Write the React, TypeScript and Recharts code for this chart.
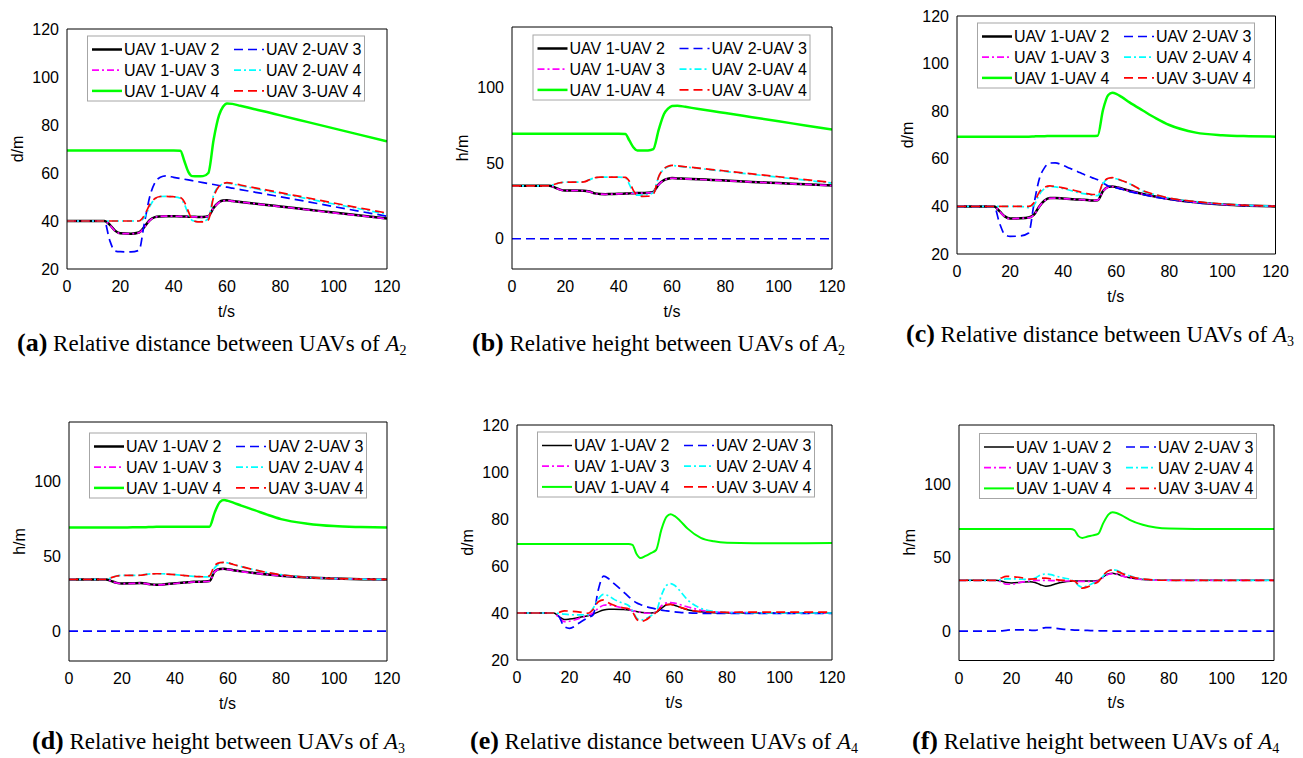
import React from "react";
import { LineChart, Line, XAxis, YAxis } from "recharts";

// ─── shared time base (s) ───────────────────────────────────────────────────
const TIME = [0, 10, 14, 16, 18, 20, 24, 27, 29, 31, 33, 35, 37, 40, 42.5, 44, 45.5, 47, 49, 51, 53, 55, 57, 58.5, 60, 62, 65, 70, 75, 80, 90, 100, 110, 120];

const X_TICKS = [0, 20, 40, 60, 80, 100, 120];
const D_TICKS = [20, 40, 60, 80, 100, 120];
const H_TICKS = [0, 50, 100];

// ─── (a) relative distance, A2 ──────────────────────────────────────────────
const a12 = [40, 40, 40, 38.5, 36, 34.9, 34.7, 35.2, 37.5, 40.3, 41.6, 41.9, 42, 42, 41.9, 41.9, 41.8, 41.8, 41.7, 41.7, 42, 45.5, 47.8, 48.5, 48.6, 48.35, 47.95, 47.3, 46.7, 46.05, 44.8, 43.5, 42.3, 41];
const a13 = [40, 40, 40, 38.4, 35.9, 34.8, 34.7, 35.1, 37.4, 40.2, 41.6, 41.9, 42, 42, 41.9, 41.8, 41.8, 41.7, 41.7, 41.6, 42, 45.4, 47.7, 48.4, 48.5, 48.3, 47.9, 47.3, 46.6, 46, 44.7, 43.4, 42.2, 40.9];
const a14 = [69.4, 69.4, 69.4, 69.4, 69.4, 69.4, 69.4, 69.4, 69.4, 69.4, 69.4, 69.4, 69.4, 69.4, 69.3, 65, 60.5, 58.7, 58.6, 58.7, 60, 74, 84, 87.6, 89, 88.8, 88, 86.7, 85.4, 84, 81.3, 78.6, 75.9, 73.2];
const a23 = [40, 40, 40, 32, 27.5, 27.2, 27.1, 27.8, 39, 50, 56, 58.2, 58.8, 58.2, 57.7, 57.4, 57.1, 56.8, 56.4, 56, 55.6, 55.2, 54.8, 54.5, 54.1, 53.7, 53.1, 52.1, 51.1, 50.1, 48.1, 46, 44, 42];
const a24 = [40, 40, 40, 40, 40, 40, 40, 40, 41.5, 46, 49.3, 50.2, 50.3, 50.1, 49.5, 47, 43, 40.2, 39.8, 39.9, 41, 51, 54.5, 55.5, 55.8, 55.4, 54.7, 53.6, 52.5, 51.5, 49.3, 47.1, 45, 42.8];
const a34 = [40, 40, 40, 40, 40, 40, 40, 40, 42.3, 46.8, 49.4, 50.2, 50.3, 50.1, 49.8, 48, 44, 40.5, 39.6, 39.6, 40.5, 50, 54.5, 55.6, 56, 55.7, 55, 53.9, 52.9, 51.8, 49.7, 47.5, 45.4, 43.3];

// ─── (b) relative height, A2 ────────────────────────────────────────────────
const b12 = [35, 35, 35, 34, 32.5, 31.9, 31.9, 31.8, 31.2, 30, 29.6, 29.5, 29.6, 29.7, 29.9, 30, 30.1, 30.2, 30.3, 30.4, 31, 36, 38.8, 39.7, 40.1, 39.9, 39.7, 39.3, 38.9, 38.5, 37.6, 36.8, 36, 35.2];
const b13 = [35, 35, 35, 33.9, 32.4, 31.8, 31.9, 31.7, 31.1, 29.9, 29.5, 29.4, 29.5, 29.7, 29.8, 29.9, 30, 30.1, 30.2, 30.3, 30.9, 35.8, 38.7, 39.6, 40, 39.8, 39.6, 39.2, 38.8, 38.4, 37.5, 36.7, 35.9, 35.1];
const b14 = [69.4, 69.4, 69.4, 69.4, 69.4, 69.4, 69.4, 69.4, 69.4, 69.4, 69.4, 69.4, 69.4, 69.4, 69.3, 65, 60.5, 58.4, 58.3, 58.4, 59.3, 72, 82.5, 86, 87.8, 88, 87.2, 85.8, 84.5, 83.1, 80.4, 77.7, 74.9, 72.2];
const b23 = [0, 0, 0, 0, 0, 0, 0, 0, 0, 0, 0, 0, 0, 0, 0, 0, 0, 0, 0, 0, 0, 0, 0, 0, 0, 0, 0, 0, 0, 0, 0, 0, 0, 0];
const b24 = [35, 35, 35, 36, 37, 37.4, 37.4, 37.6, 39, 40.3, 40.7, 40.8, 40.8, 40.7, 40.3, 36, 30.5, 28.8, 28.9, 29.3, 30.5, 41, 46, 47.6, 48.4, 48, 47.4, 46.5, 45.5, 44.5, 42.6, 40.7, 38.7, 36.8];
const b34 = [35, 35, 35, 36, 37, 37.4, 37.4, 37.6, 39, 40.3, 40.7, 40.8, 40.8, 40.7, 40.6, 38, 32, 28.8, 28, 28.1, 29.5, 41, 46.3, 47.9, 48.5, 48.2, 47.6, 46.7, 45.7, 44.8, 42.9, 41, 39.1, 37.2];

// ─── (c) relative distance, A3 ──────────────────────────────────────────────
const c12 = [40, 40, 40, 38, 35.8, 34.9, 35, 35.3, 36.5, 40, 42.5, 43.5, 43.5, 43.3, 43.1, 43, 42.9, 42.8, 42.7, 42.5, 42.6, 46.5, 48.2, 48.4, 48.1, 47.5, 46.6, 45.2, 44.1, 43.1, 41.7, 40.8, 40.3, 40];
const c13 = [40, 40, 40, 37.9, 35.7, 34.8, 35, 35.2, 36.4, 39.9, 42.4, 43.4, 43.5, 43.3, 43.1, 43, 42.9, 42.8, 42.6, 42.5, 42.6, 46.4, 48.1, 48.3, 48, 47.4, 46.5, 45.1, 44, 43, 41.7, 40.8, 40.3, 40];
const c14 = [69.3, 69.3, 69.3, 69.3, 69.3, 69.3, 69.3, 69.3, 69.4, 69.5, 69.5, 69.6, 69.6, 69.6, 69.6, 69.6, 69.6, 69.6, 69.6, 69.6, 69.7, 80.5, 86.8, 87.7, 87.3, 86, 83.7, 80.3, 77, 74.2, 71, 69.9, 69.5, 69.3];
const c23 = [40, 40, 40, 33, 28.2, 27.4, 27.6, 28.8, 41, 51.5, 56.3, 58.2, 58.3, 57.2, 56, 55.3, 54.6, 53.8, 52.9, 52, 51.2, 49.8, 48.6, 48.3, 47.8, 47.2, 46.2, 45, 43.8, 43, 41.6, 40.8, 40.3, 40.1];
const c24 = [40, 40, 40, 40, 40, 40, 40, 39.5, 40.5, 45, 47.5, 48.3, 48.2, 47.5, 46.8, 46.3, 45.9, 45.5, 45.1, 44.7, 44.5, 49.5, 51.7, 52, 51.6, 50.8, 49.5, 46.5, 44.8, 43.5, 42, 41, 40.4, 40.1];
const c34 = [40, 40, 40, 40, 40, 40, 40, 40, 41.5, 46, 48, 48.6, 48.4, 47.8, 47.2, 46.8, 46.3, 45.9, 45.4, 45, 45, 50, 51.8, 52.1, 51.7, 50.9, 49.6, 46.6, 44.9, 43.5, 42, 41, 40.4, 40.1];

// ─── (d) relative height, A3 ────────────────────────────────────────────────
const d12 = [34.6, 34.6, 34.6, 33.5, 32.3, 31.9, 32, 32.2, 31.9, 31.3, 31, 31.1, 31.5, 32, 32.4, 32.6, 32.8, 33, 33.1, 33.2, 33.5, 40, 41.6, 41.7, 41.4, 40.8, 40, 38.9, 37.9, 37.1, 35.9, 35.2, 34.8, 34.6];
const d13 = [34.6, 34.6, 34.6, 33.4, 32.2, 31.8, 31.9, 32.1, 31.8, 31.2, 30.9, 31, 31.4, 31.9, 32.3, 32.5, 32.7, 32.9, 33, 33.1, 33.4, 39.8, 41.5, 41.6, 41.3, 40.7, 39.9, 38.8, 37.8, 37, 35.9, 35.2, 34.8, 34.6];
const d14 = [69.4, 69.4, 69.4, 69.4, 69.4, 69.4, 69.5, 69.5, 69.6, 69.7, 69.8, 69.8, 69.8, 69.8, 69.8, 69.8, 69.8, 69.8, 69.8, 69.8, 69.9, 79.5, 86.5, 87.7, 87.2, 86, 84, 81, 77.8, 75, 71.9, 70.3, 69.7, 69.4];
const d23 = [0, 0, 0, 0, 0, 0, 0, 0, 0, 0, 0, 0, 0, 0, 0, 0, 0, 0, 0, 0, 0, 0, 0, 0, 0, 0, 0, 0, 0, 0, 0, 0, 0, 0];
const d24 = [34.6, 34.6, 34.6, 35.8, 36.9, 37.3, 37.3, 37.5, 38, 38.3, 38.4, 38.4, 38.2, 37.8, 37.4, 37.1, 36.9, 36.7, 36.5, 36.3, 36.5, 42.5, 45.3, 46, 45.6, 44.6, 43.2, 41, 39.2, 37.8, 36, 35.2, 34.8, 34.6];
const d34 = [34.6, 34.6, 34.6, 35.8, 36.9, 37.3, 37.3, 37.4, 37.9, 38.3, 38.4, 38.4, 38.2, 37.8, 37.4, 37.1, 36.9, 36.7, 36.5, 36.4, 37, 44, 45.8, 46, 45.6, 44.6, 43.2, 41, 39.2, 37.8, 36, 35.2, 34.8, 34.6];

// ─── (e) relative distance, A4 ──────────────────────────────────────────────
const e12 = [40, 40, 40, 38.5, 37.2, 37.4, 38.2, 38.8, 39.5, 40.5, 41.3, 41.6, 41.6, 41.5, 41.3, 41, 40.6, 40.3, 40.1, 40, 40.3, 42, 43.5, 43.7, 43.3, 42.5, 41.4, 40.5, 40.1, 40, 40, 40, 40, 40];
const e13 = [40, 40, 40, 38, 36.3, 36.5, 37.8, 39, 40, 42, 43.3, 43.5, 43, 42.2, 41.5, 41, 40.6, 40.3, 40, 39.9, 40.5, 43, 44.3, 44.4, 44.2, 43.6, 42.6, 41.2, 40.5, 40.2, 40.1, 40, 40, 40];
const e14 = [69.4, 69.4, 69.4, 69.4, 69.4, 69.4, 69.4, 69.4, 69.4, 69.4, 69.4, 69.4, 69.4, 69.4, 69.4, 69, 65.2, 63.4, 64.3, 65.5, 66.8, 75.5, 81, 82, 81.3, 79.4, 75.9, 72, 70.5, 69.9, 69.7, 69.7, 69.7, 69.8];
const e23 = [40, 40, 40, 38.5, 34.2, 33.5, 36, 38, 39.2, 50, 55.7, 54.5, 52.5, 49.6, 47, 45.5, 44.4, 43.6, 42.8, 42.2, 41.7, 41.2, 40.9, 40.7, 40.5, 40.3, 40.1, 39.9, 39.8, 39.8, 39.8, 39.8, 39.8, 39.8];
const e24 = [40, 40, 40, 39.8, 39.5, 39.3, 39.2, 39.3, 42, 46, 47.9, 47.2, 45.8, 44.3, 43.2, 41, 38, 37, 37.5, 38.8, 40.5, 47.5, 51.8, 52.5, 51.8, 49.5, 45.6, 42, 40.7, 40.2, 40.1, 40, 40, 40];
const e34 = [40, 40, 40, 40.3, 40.9, 40.8, 40.4, 39.9, 41.5, 44.8, 45.6, 44.3, 43.3, 42.3, 41.8, 40.5, 37.5, 36.3, 37, 38.6, 40.3, 42.5, 43.6, 43.7, 43.3, 42.5, 41.5, 40.6, 40.4, 40.3, 40.4, 40.4, 40.4, 40.4];

// ─── (f) relative height, A4 ────────────────────────────────────────────────
const f12 = [34.5, 34.5, 34.5, 34, 33, 32.7, 33.2, 33.5, 33, 31.5, 30.5, 31, 32.2, 33.3, 33.8, 34, 34, 34, 34, 34, 34.3, 37, 39, 39.2, 38.7, 37.6, 36.2, 35, 34.7, 34.5, 34.5, 34.5, 34.5, 34.5];
const f13 = [34.5, 34.5, 34.5, 33.5, 31.8, 31.8, 33.3, 34, 34.3, 34.5, 34.5, 34.3, 34.2, 34, 34, 33.9, 33.8, 33.7, 33.7, 33.7, 34, 36.5, 38.6, 39, 38.6, 37.5, 36.2, 35, 34.6, 34.5, 34.5, 34.5, 34.5, 34.5];
const f14 = [69.4, 69.4, 69.4, 69.4, 69.4, 69.4, 69.4, 69.4, 69.4, 69.4, 69.4, 69.4, 69.4, 69.4, 69.4, 68.5, 64.5, 63.3, 64.2, 65, 66, 73.5, 79.3, 80.7, 80.2, 78.6, 75.6, 72.2, 70.4, 69.7, 69.4, 69.4, 69.4, 69.4];
const f23 = [0, 0, 0, 0.1, 0.5, 0.8, 0.8, 0.6, 0.4, 1.5, 2.4, 2.4, 1.8, 1.2, 0.9, 0.7, 0.6, 0.5, 0.4, 0.3, 0.2, 0.1, 0.1, 0, 0, 0, 0, 0, 0, 0, 0, 0, 0, 0];
const f24 = [34.5, 34.5, 34.5, 35, 35.5, 35.5, 35.2, 35, 36, 38, 38.8, 38.3, 37.3, 36, 35, 33.5, 31, 29.8, 30.8, 32.5, 33.8, 37.5, 40.8, 41.7, 41.3, 39.8, 37.5, 35.3, 34.7, 34.5, 34.5, 34.5, 34.5, 34.5];
const f34 = [34.5, 34.5, 34.5, 36, 37.2, 37, 36.2, 35.3, 35.4, 36, 36, 35.5, 35, 34.5, 34.3, 33.8, 31.5, 29.2, 30, 31.8, 33.5, 38, 41, 41.5, 40.8, 39.2, 37.2, 35.3, 34.7, 34.5, 34.5, 34.5, 34.5, 34.5];

const SANS = "'Liberation Sans', Arial, Helvetica, sans-serif";
const SERIF = "'Liberation Serif', 'Times New Roman', serif";

interface SeriesStyle {
  key: string;
  name: string;
  color: string;
  dash?: string;
}

// plot order = MATLAB order (legend is filled column-wise)
const SERIES: SeriesStyle[] = [
  { key: "s12", name: "UAV 1-UAV 2", color: "#000000" },
  { key: "s13", name: "UAV 1-UAV 3", color: "#ff00ff", dash: "7 3 2 3" },
  { key: "s14", name: "UAV 1-UAV 4", color: "#00ff00" },
  { key: "s23", name: "UAV 2-UAV 3", color: "#0000ff", dash: "9 5" },
  { key: "s24", name: "UAV 2-UAV 4", color: "#00ffff", dash: "7 3 2 3" },
  { key: "s34", name: "UAV 3-UAV 4", color: "#ff0000", dash: "9 5" },
];

interface PanelCfg {
  tag: string;
  title: string;
  sub: string;
  yLabel: string;
  yDomain: [number, number];
  yTicks: number[];
  l: number; t: number; w: number; h: number;   // plot box on the page
  legTop: number;                                // legend offset from plot top
  thick: number; green: number;                  // widths for black / green
  capX: number; capY: number;                    // caption start + baseline
  series: number[][];
}

const PANELS: PanelCfg[] = [
  { tag: "(a)", title: "Relative distance between UAVs of ", sub: "2", yLabel: "d/m", yDomain: [20, 120], yTicks: D_TICKS,
    l: 66.5, t: 29, w: 320, h: 240, legTop: 7, thick: 2.5, green: 2.5, capX: 17, capY: 351, series: [a12, a13, a14, a23, a24, a34] },
  { tag: "(b)", title: "Relative height between UAVs of ", sub: "2", yLabel: "h/m", yDomain: [-20, 140], yTicks: H_TICKS,
    l: 512, t: 27, w: 320, h: 242, legTop: 8, thick: 2.5, green: 2.5, capX: 472, capY: 351, series: [b12, b13, b14, b23, b24, b34] },
  { tag: "(c)", title: "Relative distance between UAVs of ", sub: "3", yLabel: "d/m", yDomain: [20, 120], yTicks: D_TICKS,
    l: 956.5, t: 16, w: 318.5, h: 238, legTop: 7, thick: 2.5, green: 2.5, capX: 906, capY: 342, series: [c12, c13, c14, c23, c24, c34] },
  { tag: "(d)", title: "Relative height between UAVs of ", sub: "3", yLabel: "h/m", yDomain: [-20, 140], yTicks: H_TICKS,
    l: 68.5, t: 422, w: 318, h: 239, legTop: 11, thick: 2.5, green: 2.5, capX: 32, capY: 749, series: [d12, d13, d14, d23, d24, d34] },
  { tag: "(e)", title: "Relative distance between UAVs of ", sub: "4", yLabel: "d/m", yDomain: [20, 120], yTicks: D_TICKS,
    l: 516.5, t: 425, w: 315, h: 235, legTop: 7, thick: 1.5, green: 2, capX: 470, capY: 749, series: [e12, e13, e14, e23, e24, e34] },
  { tag: "(f)", title: "Relative height between UAVs of ", sub: "4", yLabel: "h/m", yDomain: [-20, 140], yTicks: H_TICKS,
    l: 958.5, t: 424.5, w: 315, h: 235.5, legTop: 9, thick: 1.5, green: 2, capX: 912, capY: 749, series: [f12, f13, f14, f23, f24, f34] },
];

function widthFor(p: PanelCfg, key: string) {
  if (key === "s12") return p.thick;
  if (key === "s14") return p.green;
  return 1.7;
}

const Y_AXIS_W = 60;
const X_AXIS_H = 50;
const RIGHT_PAD = 26;

function Panel({ p }: { p: PanelCfg }) {
  const rows = TIME.map((t, i) => {
    const row: Record<string, number> = { t };
    SERIES.forEach((s, k) => { row[s.key] = p.series[k][i]; });
    return row;
  });
  const tickStyle = { fill: "#000", fontSize: 16, fontFamily: SANS };
  const line = { stroke: "#000", strokeWidth: 1 };

  return (
    <div style={{ position: "absolute", left: p.l - Y_AXIS_W, top: p.t - 10 }}>
      <LineChart width={p.w + Y_AXIS_W + RIGHT_PAD} height={p.h + 10 + X_AXIS_H} data={rows}
        margin={{ top: 10, right: RIGHT_PAD, left: 0, bottom: 0 }}>
        <XAxis dataKey="t" type="number" domain={[0, 120]} ticks={X_TICKS} interval={0} allowDataOverflow
          height={X_AXIS_H} tickSize={0} tickMargin={12} tickLine={false} axisLine={line} tick={tickStyle} />
        <XAxis xAxisId="xin" dataKey="t" type="number" domain={[0, 120]} ticks={X_TICKS} interval={0} allowDataOverflow
          mirror height={4} tickSize={4} tick={false} axisLine={false} tickLine={line} />
        <XAxis xAxisId="xtop" dataKey="t" orientation="top" type="number" domain={[0, 120]} ticks={X_TICKS} interval={0}
          allowDataOverflow mirror height={4} tickSize={4} tick={false} axisLine={line} tickLine={line} />
        <YAxis type="number" domain={p.yDomain} ticks={p.yTicks} interval={0} allowDataOverflow width={Y_AXIS_W}
          tickSize={0} tickMargin={8} tickLine={false} axisLine={line} tick={tickStyle} />
        <YAxis yAxisId="yin" type="number" domain={p.yDomain} ticks={p.yTicks} interval={0} allowDataOverflow
          mirror width={4} tickSize={4} tick={false} axisLine={false} tickLine={line} />
        <YAxis yAxisId="yright" orientation="right" type="number" domain={p.yDomain} ticks={p.yTicks} interval={0}
          allowDataOverflow mirror width={4} tickSize={4} tick={false} axisLine={line} tickLine={line} />
        {SERIES.map((s) => (
          <Line key={s.key} dataKey={s.key} type="monotone" stroke={s.color} strokeWidth={widthFor(p, s.key)}
            strokeDasharray={s.dash} dot={false} activeDot={false} isAnimationActive={false} />
        ))}
      </LineChart>
    </div>
  );
}

// legend, axis titles and captions drawn in one page-level overlay
function Overlay() {
  return (
    <svg width={1303} height={758} style={{ position: "absolute", left: 0, top: 0, pointerEvents: "none" }}>
      {PANELS.map((p) => {
        const lx = p.l + 21;
        const ly = p.t + p.legTop;
        const cols = [SERIES.slice(0, 3), SERIES.slice(3)];
        return (
          <g key={p.tag}>
            <rect x={lx} y={ly} width={277} height={65} fill="#fff" stroke="#a6a6a6" strokeWidth={1} />
            {cols.map((col, ci) =>
              col.map((s, ri) => {
                const sx = lx + (ci === 0 ? 4.5 : 146.5);
                const cy = ly + 13.5 + ri * 20.7;
                return (
                  <g key={s.key}>
                    <line x1={sx} x2={sx + 30} y1={cy} y2={cy} stroke={s.color}
                      strokeWidth={widthFor(p, s.key)} strokeDasharray={s.dash} />
                    <text x={sx + 32} y={cy + 5.8} fontFamily={SANS} fontSize={16} fill="#000">{s.name}</text>
                  </g>
                );
              })
            )}
            <text x={p.l + p.w / 2} y={p.t + p.h + 48} textAnchor="middle" fontFamily={SANS} fontSize={16} fill="#000">t/s</text>
            <text x={p.l - 44} y={p.t + p.h / 2} textAnchor="middle" fontFamily={SANS} fontSize={16} fill="#000"
              transform={`rotate(-90 ${p.l - 44} ${p.t + p.h / 2})`}>{p.yLabel}</text>
            <text x={p.capX} y={p.capY} fontFamily={SERIF} fontSize={23} fill="#000">
              <tspan fontWeight="bold" fontSize={26}>{p.tag}</tspan>
              <tspan>{" " + p.title}</tspan>
              <tspan fontStyle="italic">A</tspan>
              <tspan fontSize={14} dy={4}>{p.sub}</tspan>
            </text>
          </g>
        );
      })}
    </svg>
  );
}

export default function App() {
  return (
    <div style={{ position: "absolute", left: 0, top: 0, width: 1303, height: 758, background: "#fff", fontFamily: SANS }}>
      {PANELS.map((p) => <Panel key={p.tag} p={p} />)}
      <Overlay />
    </div>
  );
}
